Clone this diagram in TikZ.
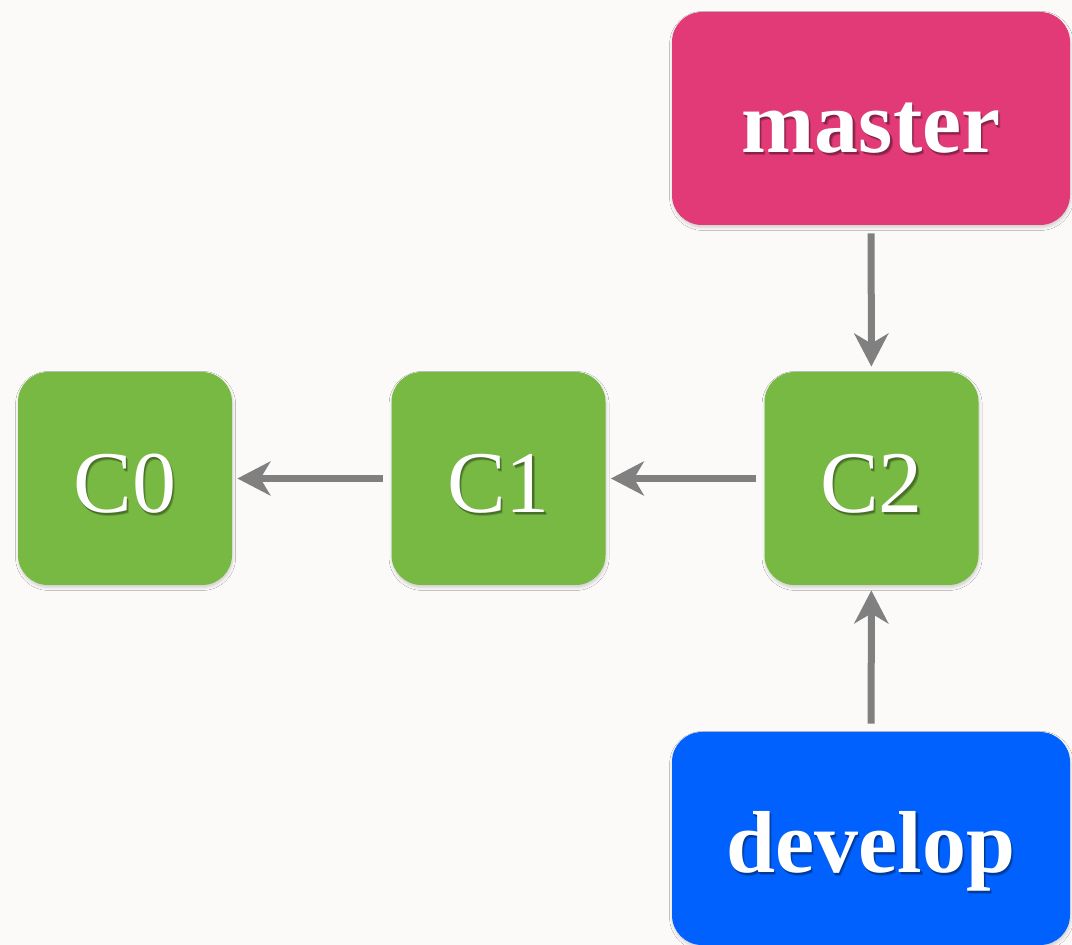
\documentclass[tikz,border=0pt]{standalone}
\usepackage{fontspec}
\setmainfont{Liberation Serif}
\usetikzlibrary{arrows.meta,shadows.blur}

\definecolor{paper}{HTML}{FBFAF8}
\definecolor{commitgreen}{HTML}{78B943}
\definecolor{masterpink}{HTML}{E23A77}
\definecolor{developblue}{HTML}{0061FE}
\definecolor{linkgray}{HTML}{808080}

% white label with a soft dark drop shadow behind it
\newcommand\liftedtext[2]{\leavevmode
  \rlap{\kern1.1pt\raisebox{-1.4pt}{\color{#1!80!black}#2}}%
  \rlap{\kern0.6pt\raisebox{-0.8pt}{\color{#1!60!black}#2}}#2}

\tikzset{
  card/.style={rounded corners=15pt, text=white, inner sep=0pt,
    text height=34pt, text depth=0pt,
    font=\fontsize{44}{50}\selectfont,
    blur shadow={shadow xshift=0.3pt, shadow yshift=-1.2pt,
      shadow blur radius=1.5pt, shadow opacity=18}},
  commit/.style={card, fill=commitgreen, minimum width=107pt, minimum height=106.5pt},
  branch/.style={card, fill=#1, minimum width=199pt, minimum height=106.5pt,
    font=\fontsize{44}{50}\selectfont\bfseries},
  link/.style={draw=linkgray, line width=3.5pt,
    -{Stealth[length=16.5pt, width=17pt, inset=5pt]},
    shorten <=4pt, shorten >=2.5pt},
}

\begin{document}
\begin{tikzpicture}[x=0.5pt, y=-0.5pt]
  \fill[paper] (0,0) rectangle (1072,945);

  \node[commit] (C0) at (125,478.5) {\liftedtext{commitgreen}{C0}};
  \node[commit] (C1) at (498.5,478.5) {\liftedtext{commitgreen}{C1}};
  \node[commit] (C2) at (871.5,478.5) {\liftedtext{commitgreen}{C2}};

  \node[branch=masterpink] (master) at (871,118.5)
    {\liftedtext{masterpink}{master}};
  \node[branch=developblue] (develop) at (871,838.5)
    {\liftedtext{developblue}{develop}};

  \draw[link] (C1) -- (C0);
  \draw[link] (C2) -- (C1);
  \draw[link] (master) -- (C2);
  \draw[link] (develop) -- (C2);

  \pgfresetboundingbox
  \useasboundingbox (0,0) rectangle (1072,945);
\end{tikzpicture}
\end{document}
